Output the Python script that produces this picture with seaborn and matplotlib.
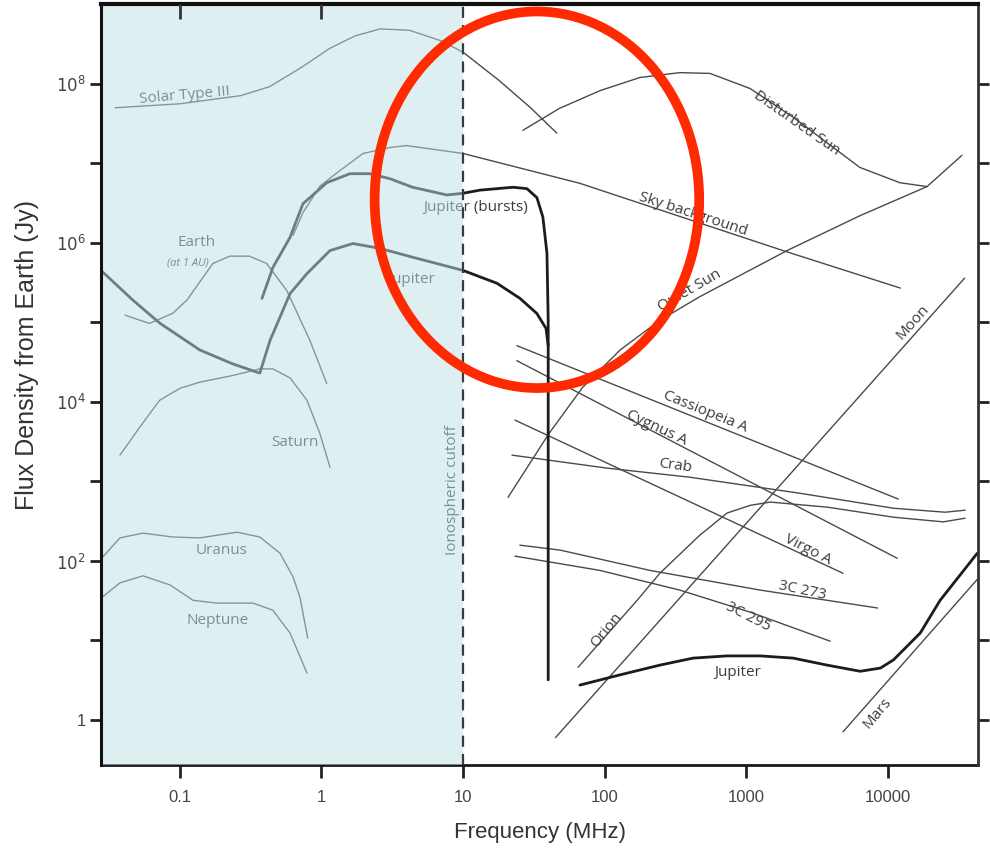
import matplotlib
matplotlib.use("Agg")
import matplotlib.pyplot as plt
import seaborn as sns
from matplotlib.patches import Ellipse
from matplotlib.ticker import FixedLocator, NullLocator, NullFormatter

sns.set_theme(style="white")
plt.rcParams["font.family"] = ["Liberation Sans", "DejaVu Sans"]

# ---- spectra: frequency in MHz, flux density in Jy ----
solar_type3_freq = [0.035, 0.1, 0.27, 0.43, 0.70, 1.15, 1.73, 2.6, 4.2, 6.9, 10, 18, 30, 46]
solar_type3_flux = [5.0e7, 5.6e7, 7.1e7, 9.2e7, 1.55e8, 2.8e8, 4.0e8, 4.9e8, 4.7e8, 3.5e8, 2.5e8, 1.1e8, 5.0e7, 2.4e7]

disturbed_sun_freq = [26.5, 48, 93, 178, 340, 556, 1070, 2150, 3750, 6350, 12200, 19000]
disturbed_sun_flux = [2.6e7, 4.9e7, 8.2e7, 1.2e8, 1.38e8, 1.35e8, 8.7e7, 3.8e7, 1.8e7, 8.9e6, 5.7e6, 5.1e6]

quiet_sun_freq = [20.8, 40.5, 70, 129, 246, 470, 1950, 6400, 19000, 33500]
quiet_sun_flux = [630, 4000, 1.52e4, 4.5e4, 1.06e5, 2.1e5, 8.0e5, 2.2e6, 5.1e6, 1.26e7]

sky_freq = [0.63, 0.74, 0.98, 1.35, 1.97, 3.05, 4.0, 10, 67, 246, 1820, 12300]
sky_flux = [1.24e6, 2.4e6, 5.2e6, 8.1e6, 1.33e7, 1.58e7, 1.67e7, 1.33e7, 5.6e6, 2.6e6, 8.0e5, 2.7e5]

earth_freq = [0.041, 0.061, 0.089, 0.112, 0.171, 0.225, 0.31, 0.41, 0.57, 0.83, 1.09]
earth_flux = [1.23e5, 9.7e4, 1.3e5, 1.9e5, 5.5e5, 6.8e5, 6.8e5, 5.5e5, 2.5e5, 5.9e4, 1.7e4]

saturn_freq = [0.0377, 0.052, 0.072, 0.1, 0.138, 0.237, 0.367, 0.454, 0.60, 0.79, 0.975, 1.15]
saturn_flux = [2140, 4800, 1.05e4, 1.48e4, 1.77e4, 2.15e4, 2.6e4, 2.6e4, 2.0e4, 1.05e4, 4000, 1500]

uranus_freq = [0.0281, 0.0377, 0.0548, 0.089, 0.138, 0.253, 0.367, 0.51, 0.63, 0.705, 0.80]
uranus_flux = [109, 195, 224, 200, 195, 230, 200, 125, 63, 35, 10.7]

neptune_freq = [0.0277, 0.0377, 0.0548, 0.085, 0.124, 0.183, 0.328, 0.454, 0.60, 0.79]
neptune_flux = [34, 53, 65, 50, 32, 29.5, 29.5, 24, 12.4, 3.9]

jupiter_bursts_freq = [0.38, 0.454, 0.60, 0.74, 1.09, 1.59, 2.2, 3.05, 4.4, 7.7, 10, 13.2, 22.6, 28.3, 33.3, 36.7, 39.2, 40, 40]
jupiter_bursts_flux = [2.0e5, 4.9e5, 1.17e6, 3.1e6, 5.7e6, 7.4e6, 7.4e6, 6.4e6, 5.0e6, 4.0e6, 4.2e6, 4.6e6, 5.0e6, 4.8e6, 3.7e6, 2.1e6, 7.4e5, 1.07e5, 3.2]

jupiter_low_freq = [0.0277, 0.0466, 0.072, 0.138, 0.237, 0.367, 0.433, 0.60, 0.79, 1.15, 1.67, 2.6, 4.4, 10, 17.4, 25.3, 33.3, 38.6, 40]
jupiter_low_flux = [4.5e5, 1.9e5, 9.8e4, 4.5e4, 3.0e4, 2.3e4, 5.9e4, 2.3e5, 4.1e5, 8.0e5, 9.8e5, 8.5e5, 6.6e5, 4.5e5, 3.1e5, 2.0e5, 1.29e5, 8.4e4, 5.1e4]

jupiter_high_freq = [67, 129, 246, 422, 733, 1260, 2150, 3740, 6400, 8900, 11000, 17000, 23500, 43000]
jupiter_high_flux = [2.75, 3.7, 4.9, 6.0, 6.4, 6.4, 6.0, 4.9, 4.1, 4.5, 5.7, 12.4, 32, 125]

moon_freq = [45, 35000]
moon_flux = [0.6, 3.6e5]

mars_freq = [4840, 43500]
mars_flux = [0.71, 60]

orion_freq = [65, 170, 246, 470, 733, 1070, 1480, 3740, 11000, 24700, 35300]
orion_flux = [4.6, 32, 70, 210, 400, 500, 550, 475, 355, 310, 345]

crab_freq = [22.2, 104, 400, 2400, 11000, 25500, 35300]
crab_flux = [2140, 1470, 1130, 710, 460, 410, 435]

cas_a_freq = [24, 11900]
cas_a_flux = [5.1e4, 600]

cyg_a_freq = [24, 11700]
cyg_a_flux = [3.3e4, 108]

virgo_a_freq = [23.3, 4840]
virgo_a_flux = [5900, 70]

c273_freq = [25.2, 48.5, 210, 1260, 8500]
c273_flux = [158, 137, 76, 43, 25.6]

c295_freq = [23.3, 93, 340, 1070, 3930]
c295_flux = [115, 76, 43, 22.7, 9.8]

thin = dict(color="#4a4a4a", linewidth=1.0)
thick = dict(color="#1c1c1c", linewidth=2.0)

curves = [
    (solar_type3_freq, solar_type3_flux, thin),
    (disturbed_sun_freq, disturbed_sun_flux, thin),
    (quiet_sun_freq, quiet_sun_flux, thin),
    (sky_freq, sky_flux, thin),
    (earth_freq, earth_flux, thin),
    (saturn_freq, saturn_flux, thin),
    (uranus_freq, uranus_flux, thin),
    (neptune_freq, neptune_flux, thin),
    (moon_freq, moon_flux, thin),
    (mars_freq, mars_flux, thin),
    (orion_freq, orion_flux, thin),
    (crab_freq, crab_flux, thin),
    (cas_a_freq, cas_a_flux, thin),
    (cyg_a_freq, cyg_a_flux, thin),
    (virgo_a_freq, virgo_a_flux, thin),
    (c273_freq, c273_flux, thin),
    (c295_freq, c295_flux, thin),
    (jupiter_bursts_freq, jupiter_bursts_flux, thick),
    (jupiter_low_freq, jupiter_low_flux, thick),
    (jupiter_high_freq, jupiter_high_flux, thick),
]

fig = plt.figure(figsize=(9.9, 8.49), dpi=100)
ax = fig.add_axes([0.102, 0.099, 0.886, 0.896])
ax.set_xscale("log")
ax.set_yscale("log")

for fx, fy, style in curves:
    sns.lineplot(x=fx, y=fy, ax=ax, sort=False, estimator=None, zorder=3, **style)

x_lo, x_hi = 0.0277, 43600
y_lo, y_hi = 10 ** -0.565, 1.0e9
ax.set_xlim(x_lo, x_hi)
ax.set_ylim(y_lo, y_hi)

# region below the ionospheric cutoff
ax.axvspan(x_lo, 10, color="#bfe1e5", alpha=0.5, lw=0, zorder=5)
ax.axvline(10, color="#3a3a3a", lw=1.6, ls=(0, (5, 3.2)), zorder=6)

label_color = "#3c3c3c"
lab = dict(color=label_color, fontsize=11, family=["Open Sans", "DejaVu Sans"],
           ha="center", va="center", zorder=4, rotation_mode="anchor")
labels = [
    ("Solar Type III", 0.108, 7.1e7, 5),
    ("Disturbed Sun", 2290, 3.2e7, -35),
    ("Sky background", 422, 2.3e6, -18),
    ("Quiet Sun", 400, 2.5e5, 30),
    ("Moon", 15100, 1.0e5, 48),
    ("Cassiopeia A", 512, 7400, -22),
    ("Cygnus A", 234, 4700, -25),
    ("Crab", 316, 1550, -8),
    ("Virgo A", 2750, 137, -27),
    ("3C 273", 2500, 43, -12),
    ("3C 295", 1030, 19.6, -27),
    ("Orion", 104, 13.5, 50),
    ("Jupiter", 870, 4.0, 0),
    ("Mars", 8450, 1.22, 50),
    ("Ionospheric cutoff", 8.5, 775, 90),
    ("Earth", 0.132, 1.0e6, 0),
    ("Saturn", 0.65, 3100, 0),
    ("Uranus", 0.198, 137, 0),
    ("Neptune", 0.186, 18, 0),
    ("Jupiter (bursts)", 12.2, 2.8e6, 0),
    ("Jupiter", 4.36, 3.5e5, 0),
]
for text, x, y, rot in labels:
    ax.text(x, y, text, rotation=rot, **lab)
ax.text(0.114, 5.6e5, "(at 1 AU)", style="italic", **{**lab, "fontsize": 8})

# axes ticks
ax.xaxis.set_major_locator(FixedLocator([0.1, 1, 10, 100, 1000, 10000]))
ax.set_xticklabels(["0.1", "1", "10", "100", "1000", "10000"])
ax.xaxis.set_minor_locator(NullLocator())
ax.yaxis.set_major_locator(FixedLocator([1, 1e2, 1e4, 1e6, 1e8]))
ax.set_yticklabels(["1", r"$10^2$", r"$10^4$", r"$10^6$", r"$10^8$"])
ax.yaxis.set_minor_locator(FixedLocator([1e1, 1e3, 1e5, 1e7]))
ax.yaxis.set_minor_formatter(NullFormatter())

ax.tick_params(axis="both", which="both", direction="out", colors="#222222",
               labelcolor="#444444", labelsize=12, width=2)
ax.tick_params(axis="y", which="both", length=8, left=True, right=True, pad=3)
ax.tick_params(axis="x", which="major", length=9, bottom=True, top=False, pad=9)

top = ax.secondary_xaxis("top")
top.xaxis.set_major_locator(FixedLocator([0.1, 1]))
top.xaxis.set_minor_locator(NullLocator())
top.tick_params(direction="in", length=11, width=2, labeltop=False, colors="#333333")
top.spines["top"].set_visible(False)
top.set_zorder(8)

for side, lw, col in [("left", 2.2, "#111111"), ("top", 3.0, "#111111"),
                      ("right", 2.0, "#333333"), ("bottom", 2.0, "#1a1a1a")]:
    ax.spines[side].set_visible(True)
    ax.spines[side].set_linewidth(lw)
    ax.spines[side].set_color(col)
for side in ("left", "top", "right"):
    ax.spines[side].set_zorder(7)

ax.set_xlabel("Frequency (MHz)", fontsize=16, color="#333333", labelpad=12)
ax.set_ylabel("Flux Density from Earth (Jy)", fontsize=18, color="#333333")
ax.yaxis.set_label_coords(-0.0707, 0.539)

# highlight around the Jupiter burst cutoff
ax.add_patch(Ellipse((0.497, 0.743), 0.370, 0.495, transform=ax.transAxes,
                     fill=False, edgecolor="#ff2a00", linewidth=7, zorder=30, clip_on=False))

fig.savefig("out.png", dpi=100)
